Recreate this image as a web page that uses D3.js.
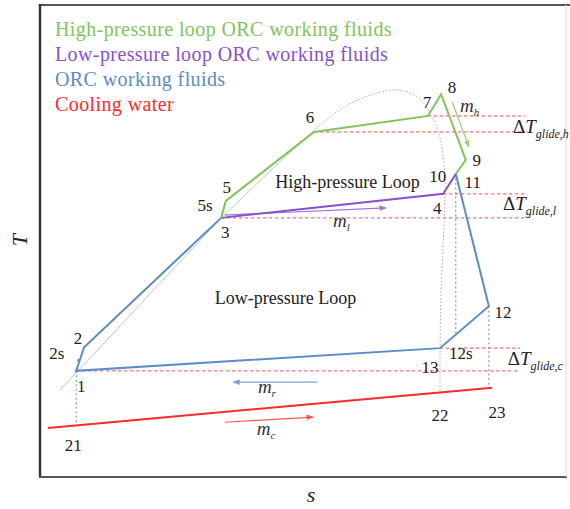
<!DOCTYPE html>
<html lang="en">
  <head>
    <meta charset="UTF-8" />
    <title>ORC T-s diagram</title>
    <script src="https://cdn.jsdelivr.net/npm/d3@7"></script>
    <style>
      body { margin: 0; background: #fff; }
    </style>
  </head>
  <body>
    <script>
      // state points: name, s, T (arbitrary units)
      let pointNames = ["1", "2s", "2", "3", "5s", "5", "6", "7", "8", "9", "10", "4", "12", "12s", "13", "21", "22", "23"];
      let pointS = [6.9, 7.4, 8.4, 34.5, 34.7, 35.4, 52.2, 73.9, 76.4, 81.1, 79.2, 76.8, 85.5, 79.4, 76.2, 6.9, 76.2, 85.5];
      let pointT = [22.5, 25.4, 27.5, 54.9, 56.6, 58.5, 73.1, 76.5, 81.1, 67.2, 64.2, 60.0, 36.2, 30.3, 27.3, 10.8, 17.8, 18.6];

      // paths through the states
      let highLoop = ["3", "5", "6", "7", "8", "9", "10"];
      let lowLoop = ["3", "4", "10"];
      let orcLoop = ["10", "12", "13", "1", "2", "3"];
      let coolingS = [1.5, 86.1];
      let coolingT = [10.4, 18.9];

      // saturation dome
      let domeS = [3.8, 34.5, 49.5, 57.1, 62.9, 67.6, 71.4, 74.3, 76.2, 77.1, 77.0, 76.4, 76.2, 76.2];
      let domeT = [18.4, 54.9, 70.8, 77.8, 80.9, 82.0, 80.9, 77.3, 71.8, 64.0, 54.5, 39.6, 26.9, 17.4];

      // glide lines (start point, end s)
      let glideFrom = ["7", "6", "4", "3", "13", "1"];
      let glideEnd = [92.4, 92.4, 92.4, 92.4, 91.4, 91.4];
      let dropFrom = ["1", "10", "12"];
      let dropTo = ["21", "12s", "23"];

      let legendText = ["High-pressure loop ORC working fluids", "Low-pressure loop ORC working fluids", "ORC working fluids", "Cooling water"];

      let colors = { green: "#7fc55a", purple: "#8b4fcf", blue: "#5b8cc6", red: "#ff2b2b", pink: "#ff6a6a", grey: "#aaaaaa" };
      let serif = "'Liberation Serif', 'Times New Roman', 'DejaVu Serif', serif";

      let width = 570, height = 509;
      let svg = d3.select("body").append("svg").attr("width", width).attr("height", height)
        .attr("font-family", serif);

      let x = d3.scaleLinear().domain([0, 100]).range([40, 565]);
      let y = d3.scaleLinear().domain([0, 100]).range([477, 5]);

      let pts = {};
      pointNames.forEach(function (n, i) {
        pts[n] = { s: pointS[i], T: pointT[i] };
      });
      pts["11"] = pts["10"];

      let line = d3.line().x(function (d) { return x(d.s); }).y(function (d) { return y(d.T); });

      // frame
      svg.append("line").attr("x1", 40).attr("y1", 5).attr("x2", 570).attr("y2", 5).attr("stroke", "#555").attr("stroke-width", 2);
      svg.append("line").attr("x1", 40).attr("y1", 4).attr("x2", 40).attr("y2", 477).attr("stroke", "#333").attr("stroke-width", 2.5);
      svg.append("line").attr("x1", 39).attr("y1", 477).attr("x2", 567).attr("y2", 477).attr("stroke", "#555").attr("stroke-width", 2);
      svg.append("line").attr("x1", 566).attr("y1", 5).attr("x2", 566).attr("y2", 477).attr("stroke", "#ddd").attr("stroke-width", 1);

      // arrow markers
      let defs = svg.append("defs");
      ["green", "purple", "blue", "red"].forEach(function (c) {
        defs.append("marker")
          .attr("id", "arr-" + c)
          .attr("viewBox", "0 0 10 10")
          .attr("refX", 9).attr("refY", 5)
          .attr("markerWidth", 6).attr("markerHeight", 6)
          .attr("orient", "auto")
          .append("path").attr("d", "M0,1L10,5L0,9Z").attr("fill", colors[c]);
      });

      // dome: thin solid liquid side, dotted vapour side
      let dome = domeS.map(function (s, i) { return { s: s, T: domeT[i] }; });
      svg.append("path").datum(dome.slice(0, 3)).attr("d", line).attr("fill", "none").attr("stroke", "#c4c4c4").attr("stroke-width", 1);
      svg.append("path").datum(dome.slice(2))
        .attr("d", line.curve(d3.curveCatmullRom))
        .attr("fill", "none").attr("stroke", colors.grey).attr("stroke-width", 1).attr("stroke-dasharray", "1.5,2");
      line.curve(d3.curveLinear);

      // red dashed glide lines
      glideFrom.forEach(function (n, i) {
        svg.append("line")
          .attr("x1", x(pts[n].s)).attr("y1", y(pts[n].T))
          .attr("x2", x(glideEnd[i])).attr("y2", y(pts[n].T))
          .attr("stroke", colors.pink).attr("stroke-width", 1.2).attr("stroke-dasharray", "3,3");
      });

      // vertical dotted drops
      dropFrom.forEach(function (n, i) {
        let a = pts[n], b = pts[dropTo[i]];
        svg.append("line")
          .attr("x1", x(a.s)).attr("y1", y(a.T)).attr("x2", x(a.s)).attr("y2", y(b.T))
          .attr("stroke", colors.blue).attr("stroke-width", 1).attr("stroke-dasharray", "2,2.5");
      });

      // cooling water
      svg.append("path").datum(coolingS.map(function (s, i) { return { s: s, T: coolingT[i] }; }))
        .attr("d", line).attr("fill", "none").attr("stroke", colors.red).attr("stroke-width", 2);

      // cycles
      function drawLoop(names, color) {
        svg.append("path").datum(names.map(function (n) { return pts[n]; }))
          .attr("d", line).attr("fill", "none").attr("stroke", color)
          .attr("stroke-width", 2).attr("stroke-linejoin", "miter");
      }
      drawLoop(orcLoop, colors.blue);
      drawLoop(lowLoop, colors.purple);
      drawLoop(highLoop, colors.green);
      svg.append("path").datum([pts["1"], pts["2s"]]).attr("d", line).attr("fill", "none")
        .attr("stroke", colors.blue).attr("stroke-width", 1.5).attr("stroke-dasharray", "3,6");

      // flow arrows
      let arrows = [
        { c: "green", s: [78.5, 81.7], T: [79.5, 69.9] },
        { c: "purple", s: [35.2, 65.9], T: [55.5, 57.0] },
        { c: "blue", s: [52.8, 36.8], T: [20.1, 20.1] },
        { c: "red", s: [35.2, 52.0], T: [11.6, 12.7] }
      ];
      arrows.forEach(function (a) {
        svg.append("line")
          .attr("x1", x(a.s[0])).attr("y1", y(a.T[0])).attr("x2", x(a.s[1])).attr("y2", y(a.T[1]))
          .attr("stroke", colors[a.c]).attr("stroke-width", 1.2).attr("opacity", 0.8)
          .attr("marker-end", "url(#arr-" + a.c + ")");
      });

      // point labels
      let labelOffsets = {
        "1": [5, 21], "2": [-6, -3], "2s": [-22, 2], "3": [4, 20], "5s": [-17, 1], "5": [1, -8],
        "6": [-4, -9], "7": [-1, -8], "8": [11, -1], "9": [11, 6], "10": [-18, 8], "11": [17, 14],
        "4": [-6, 20], "12": [14, 12], "12s": [4, 25], "13": [-10, 25], "21": [-3, 25], "22": [0, 28], "23": [8, 29]
      };
      Object.keys(labelOffsets).forEach(function (n) {
        svg.append("text")
          .attr("x", x(pts[n].s) + labelOffsets[n][0])
          .attr("y", y(pts[n].T) + labelOffsets[n][1])
          .attr("text-anchor", "middle").attr("font-size", 17).attr("fill", "#222")
          .text(n);
      });

      // loop names
      svg.append("text").attr("x", x(44.8)).attr("y", y(61.2)).attr("font-size", 18).attr("fill", "#222").text("High-pressure Loop");
      svg.append("text").attr("x", x(33.3)).attr("y", y(36.7)).attr("font-size", 18).attr("fill", "#222").text("Low-pressure Loop");

      // glide temperature labels
      let glideLabels = [
        { sub: "glide,h", s: 90.1, T: 72.9 },
        { sub: "glide,l", s: 88.2, T: 56.6 },
        { sub: "glide,c", s: 89.1, T: 23.7 }
      ];
      glideLabels.forEach(function (g) {
        let t = svg.append("text").attr("x", x(g.s)).attr("y", y(g.T)).attr("font-size", 19).attr("fill", "#222");
        t.append("tspan").text("\u0394");
        t.append("tspan").attr("font-style", "italic").text("T");
        t.append("tspan").attr("font-style", "italic").attr("font-size", 12).attr("dy", 5).text(g.sub);
      });

      // mass flow labels
      let flowLabels = [
        { sub: "h", s: 80.0, T: 77.3 },
        { sub: "l", s: 55.8, T: 53.0 },
        { sub: "r", s: 41.5, T: 17.8 },
        { sub: "c", s: 41.3, T: 8.9 }
      ];
      flowLabels.forEach(function (f) {
        let t = svg.append("text").attr("x", x(f.s)).attr("y", y(f.T)).attr("font-size", 19)
          .attr("font-style", "italic").attr("fill", "#333");
        t.append("tspan").text("m");
        t.append("tspan").attr("font-size", 11).attr("dy", 4).text(f.sub);
      });

      // legend
      let legendColors = [colors.green, colors.purple, colors.blue, colors.red];
      svg.selectAll(".legend")
        .data(legendText)
        .enter()
        .append("text")
        .attr("x", 55)
        .attr("y", function (d, i) { return 36 + i * 25; })
        .attr("font-size", 20)
        .attr("letter-spacing", 0.4)
        .attr("fill", function (d, i) { return legendColors[i]; })
        .text(function (d) { return d; });

      // axis titles
      svg.append("text").attr("transform", "translate(27,240) rotate(-90)")
        .attr("text-anchor", "middle").attr("font-size", 22).attr("font-style", "italic").attr("fill", "#222").text("T");
      svg.append("text").attr("x", 311).attr("y", 502)
        .attr("text-anchor", "middle").attr("font-size", 22).attr("font-style", "italic").attr("fill", "#222").text("s");
    </script>
  </body>
</html>
